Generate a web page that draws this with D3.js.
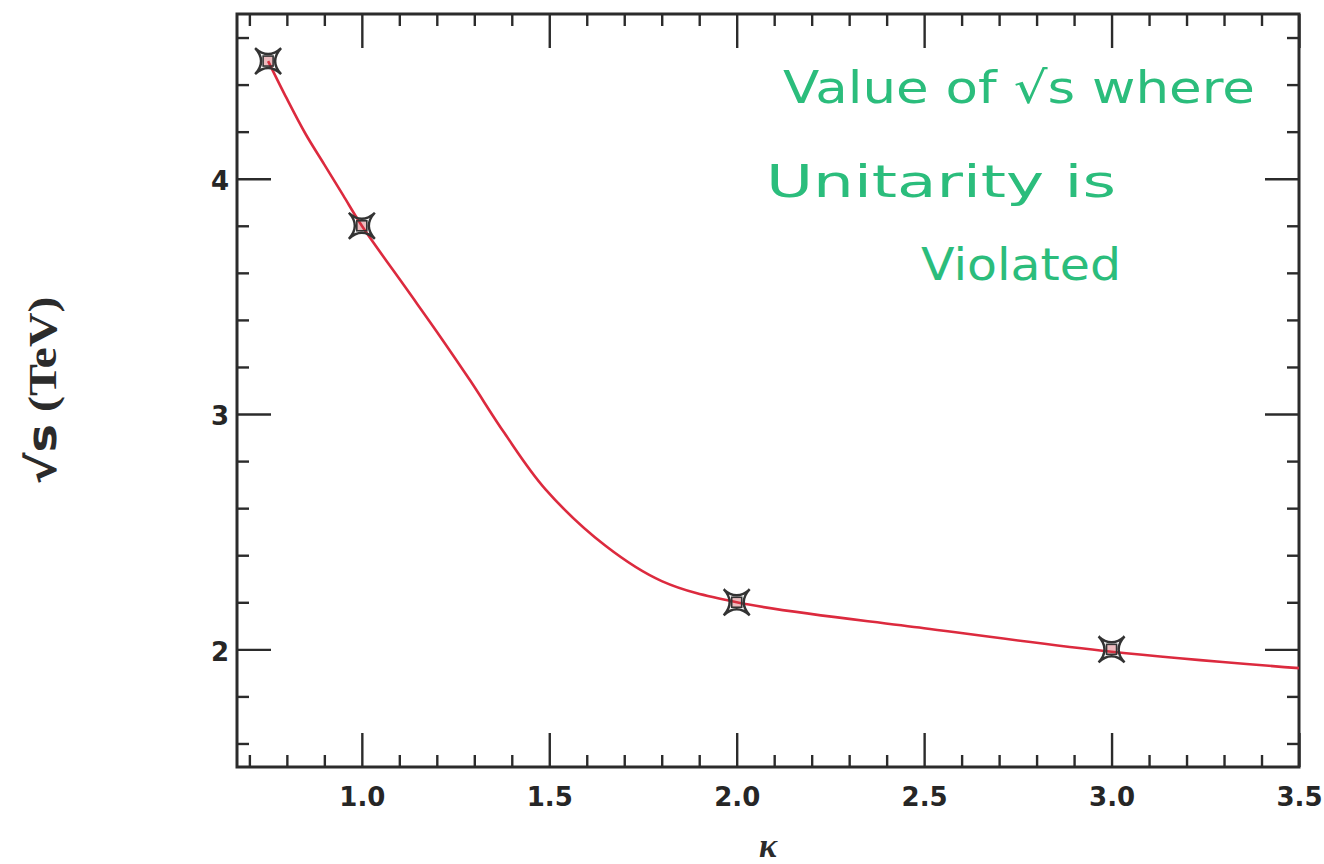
<!DOCTYPE html>
<html>
<head>
<meta charset="utf-8">
<script src="https://cdn.jsdelivr.net/npm/d3@7"></script>
<style>
body { margin: 0; background: #fff; }
svg { display: block; }
</style>
</head>
<body>
<script>
'use strict';

var w = 1324;
var h = 864;

// curve: sqrt(s) where unitarity is violated, vs kappa
var kappa = [ 0.75, 0.80, 0.85, 0.90, 0.95, 1.0, 1.12, 1.20, 1.29, 1.38, 1.49, 1.65, 1.80, 2.0, 2.5, 3.0, 3.5 ];
var sqrtS = [ 4.50, 4.34, 4.19, 4.06, 3.93, 3.80, 3.53, 3.35, 3.14, 2.92, 2.68, 2.44, 2.29, 2.20, 2.09, 1.99, 1.92 ];

// computed points (markers)
var ptKappa = [ 0.75, 1.0, 2.0, 3.0 ];
var ptSqrtS = [ 4.50, 3.80, 2.20, 2.00 ];

// tick labels
var xTicks = [ 1.0, 1.5, 2.0, 2.5, 3.0, 3.5 ];
var yTicks = [ 2, 3, 4 ];

var noteLines = [ 'Value of ', 'Unitarity is', 'Violated' ];

var pLeft = 237, pRight = 1299, pTop = 14, pBottom = 767;

var x = d3.scaleLinear().domain([ 0.667, 3.5 ]).range([ pLeft, pRight ]);
var y = d3.scaleLinear().domain([ 1.5, 4.7 ]).range([ pBottom, pTop ]);

var svg = d3.select('body').append('svg')
	.attr('width', w)
	.attr('height', h);

svg.append('rect')
	.attr('width', w)
	.attr('height', h)
	.attr('fill', '#fff');

var xMinor = d3.range(0.7, 3.45, 0.1).filter(function(d) {
	return Math.abs(d * 2 - Math.round(d * 2)) > 0.01;
});
var yMinor = d3.range(1.6, 4.65, 0.2).filter(function(d) {
	return Math.abs(d - Math.round(d)) > 0.01;
});

var tickFont = function(g) {
	g.select('.domain').remove();
	g.selectAll('line').attr('stroke', '#2b2b2b').attr('stroke-width', 2.4);
	g.selectAll('text')
		.attr('fill', '#262626')
		.attr('font-family', 'DejaVu Sans, sans-serif')
		.attr('font-weight', 'bold')
		.attr('font-size', 26);
};

// bottom
svg.append('g').attr('transform', 'translate(0,' + pBottom + ')')
	.call(d3.axisBottom(x).tickValues(xTicks).tickSize(-34).tickPadding(21)
		.tickFormat(d3.format('.1f')))
	.call(tickFont);
svg.append('g').attr('transform', 'translate(0,' + pBottom + ')')
	.call(d3.axisBottom(x).tickValues(xMinor).tickSize(-12).tickFormat(''))
	.call(tickFont);

// top
svg.append('g').attr('transform', 'translate(0,' + pTop + ')')
	.call(d3.axisTop(x).tickValues(xTicks).tickSize(-34).tickFormat(''))
	.call(tickFont);
svg.append('g').attr('transform', 'translate(0,' + pTop + ')')
	.call(d3.axisTop(x).tickValues(xMinor).tickSize(-12).tickFormat(''))
	.call(tickFont);

// left
svg.append('g').attr('transform', 'translate(' + pLeft + ',0)')
	.call(d3.axisLeft(y).tickValues(yTicks).tickSize(-34).tickPadding(8)
		.tickFormat(d3.format('d')))
	.call(tickFont)
	.selectAll('text').attr('dy', '0.42em');
svg.append('g').attr('transform', 'translate(' + pLeft + ',0)')
	.call(d3.axisLeft(y).tickValues(yMinor).tickSize(-12).tickFormat(''))
	.call(tickFont);

// right
svg.append('g').attr('transform', 'translate(' + pRight + ',0)')
	.call(d3.axisRight(y).tickValues(yTicks).tickSize(-34).tickFormat(''))
	.call(tickFont);
svg.append('g').attr('transform', 'translate(' + pRight + ',0)')
	.call(d3.axisRight(y).tickValues(yMinor).tickSize(-12).tickFormat(''))
	.call(tickFont);

// frame
svg.append('rect')
	.attr('x', pLeft)
	.attr('y', pTop)
	.attr('width', pRight - pLeft)
	.attr('height', pBottom - pTop)
	.attr('fill', 'none')
	.attr('stroke', '#2b2b2b')
	.attr('stroke-width', 3);

// curve
var line = d3.line()
	.x(function(d, i) { return x(kappa[i]); })
	.y(function(d, i) { return y(sqrtS[i]); })
	.curve(d3.curveCatmullRom.alpha(0.5));

svg.append('path')
	.datum(kappa)
	.attr('d', line)
	.attr('fill', 'none')
	.attr('stroke', '#dc2a3e')
	.attr('stroke-width', 2.6);

// star markers
var star = 'M-13,-13 Q0,-1 13,-13 Q1,0 13,13 Q0,1 -13,13 Q-1,0 -13,-13 Z';
var marks = svg.append('g').selectAll('g')
	.data(ptKappa)
	.enter().append('g')
	.attr('transform', function(d, i) {
		return 'translate(' + x(d) + ',' + y(ptSqrtS[i]) + ')';
	});
marks.append('path')
	.attr('d', star)
	.attr('fill', 'none')
	.attr('stroke', '#333')
	.attr('stroke-width', 2.4);
marks.append('rect')
	.attr('x', -5).attr('y', -5)
	.attr('width', 10).attr('height', 10)
	.attr('fill', 'rgba(200,60,70,0.35)')
	.attr('stroke', '#333')
	.attr('stroke-width', 1.6);

// axis titles
svg.append('text')
	.attr('transform', 'translate(' + ((pLeft + pRight) / 2) + ',857)')
	.attr('text-anchor', 'middle')
	.attr('font-family', 'Liberation Serif, serif')
	.attr('font-style', 'italic')
	.attr('font-weight', 'bold')
	.attr('font-size', 34)
	.attr('fill', '#2b2b2b')
	.text('κ');

var yTitle = svg.append('text')
	.attr('transform', 'translate(56,' + ((pTop + pBottom) / 2) + ') rotate(-90)')
	.attr('text-anchor', 'middle')
	.attr('font-size', 40)
	.attr('font-weight', 'bold')
	.attr('fill', '#2b2b2b')
	.attr('textLength', 188)
	.attr('lengthAdjust', 'spacingAndGlyphs');
yTitle.append('tspan')
	.attr('font-family', 'DejaVu Sans, sans-serif')
	.text('√s');
yTitle.append('tspan')
	.attr('font-family', 'Liberation Serif, serif')
	.text(' (TeV)');

// green note
var noteX = [ 783, 766, 921 ];
var noteY = [ 103, 197, 280 ];
var noteW = [ 472, 350, 200 ];
var note = svg.append('g')
	.attr('font-family', 'DejaVu Sans, sans-serif')
	.attr('font-size', 44)
	.attr('fill', '#2bbd7c');
note.selectAll('text')
	.data(noteLines)
	.enter().append('text')
	.attr('x', function(d, i) { return noteX[i]; })
	.attr('y', function(d, i) { return noteY[i]; })
	.attr('textLength', function(d, i) { return noteW[i]; })
	.attr('lengthAdjust', 'spacingAndGlyphs')
	.each(function(d, i) {
		var t = d3.select(this);
		t.append('tspan').text(d);
		if (i === 0) {
			t.append('tspan').text('√s');
			t.append('tspan').text(' where');
		}
	});
</script>
</body>
</html>
